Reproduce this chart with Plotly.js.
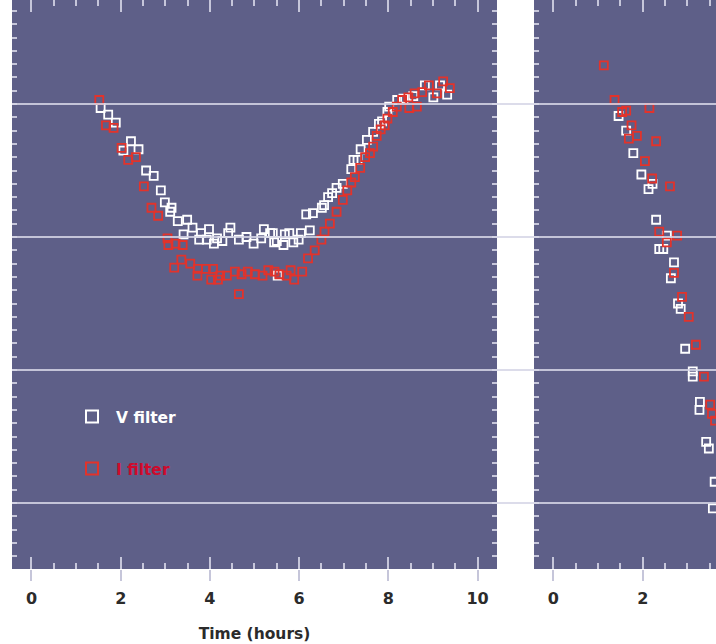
<!DOCTYPE html>
<html>
<head>
<meta charset="utf-8">
<script src="https://cdn.plot.ly/plotly-3.0.1.min.js"></script>
<style>html,body{margin:0;padding:0;background:#fff;overflow:hidden}#chart{width:716px;height:644px}</style>
</head>
<body>
<div id="chart"></div>
<script>
// Light curve data: time (hours) and relative magnitude (larger = fainter)
const vLeftTime = [1.55,1.72,1.89,2.06,2.23,2.40,2.57,2.74,2.90,2.99,3.11,3.14,3.28,3.41,3.49,3.61,3.76,3.80,3.93,3.98,4.09,4.16,4.28,4.41,4.46,4.65,4.82,4.98,5.15,5.21,5.35,5.41,5.44,5.50,5.52,5.65,5.68,5.78,5.87,5.99,6.04,6.16,6.24,6.31,6.51,6.56,6.65,6.74,6.84,6.98,7.17,7.22,7.31,7.38,7.52,7.66,7.79,7.86,7.98,8.02,8.20,8.34,8.56,8.82,9.01,9.16,9.32];
const vLeftMag  = [0.03,0.08,0.14,0.35,0.28,0.34,0.50,0.54,0.65,0.74,0.81,0.78,0.88,0.98,0.87,0.93,1.02,0.97,1.02,0.94,1.05,1.01,1.03,0.97,0.93,1.02,1.00,1.05,1.01,0.94,0.97,0.97,1.04,1.03,1.29,1.06,0.98,0.97,1.04,1.02,0.97,0.83,0.95,0.82,0.78,0.76,0.70,0.67,0.63,0.60,0.49,0.42,0.42,0.34,0.27,0.21,0.15,0.13,0.06,0.02,-0.03,-0.04,-0.06,-0.14,-0.05,-0.14,-0.07];

const iLeftTime = [1.52,1.67,1.84,2.02,2.17,2.34,2.52,2.69,2.84,3.05,3.07,3.20,3.23,3.36,3.39,3.56,3.72,3.73,3.91,4.03,4.07,4.18,4.23,4.38,4.56,4.65,4.71,4.85,5.01,5.18,5.31,5.45,5.56,5.72,5.81,5.89,6.07,6.20,6.35,6.50,6.57,6.69,6.84,6.98,7.08,7.17,7.25,7.37,7.48,7.59,7.66,7.74,7.83,7.92,7.98,8.10,8.19,8.31,8.45,8.47,8.59,8.64,8.76,8.91,9.09,9.23,9.38];
const iLeftMag  = [-0.03,0.16,0.18,0.33,0.42,0.40,0.62,0.78,0.84,1.01,1.06,1.23,1.05,1.17,1.06,1.20,1.29,1.24,1.24,1.32,1.24,1.32,1.29,1.29,1.26,1.43,1.28,1.26,1.28,1.29,1.25,1.26,1.28,1.29,1.25,1.32,1.26,1.16,1.10,1.02,0.96,0.90,0.81,0.72,0.65,0.59,0.55,0.48,0.40,0.37,0.32,0.24,0.19,0.16,0.11,0.06,0.02,-0.03,-0.05,0.03,-0.08,0.02,-0.09,-0.14,-0.08,-0.17,-0.12];

const vRightTime = [1.46,1.63,1.79,1.97,2.13,2.22,2.30,2.37,2.46,2.54,2.63,2.70,2.79,2.85,2.95,3.12,3.12,3.27,3.28,3.42,3.48,3.57,3.61];
const vRightMag  = [0.09,0.20,0.37,0.53,0.64,0.60,0.87,1.09,1.09,0.99,1.31,1.19,1.50,1.54,1.84,2.01,2.05,2.30,2.24,2.54,2.59,3.04,2.84];

const iRightTime = [1.13,1.37,1.54,1.63,1.69,1.75,1.87,2.05,2.15,2.21,2.30,2.37,2.54,2.61,2.70,2.77,2.88,3.03,3.19,3.37,3.51,3.55,3.62];
const iRightMag  = [-0.29,-0.03,0.06,0.05,0.26,0.16,0.24,0.43,0.03,0.56,0.28,0.96,1.04,0.62,1.27,0.99,1.45,1.60,1.81,2.05,2.26,2.33,2.38];

const seriesNames = ['V filter', 'I filter'];
const gridValues = [0, 1, 2, 3];
const xTickLabels = ['0','2','4','6','8','10'];

const BG = '#5e5f88';
const TICKC = '#c6c6da';
const WHITE = '#ffffff';
const RED = '#e2332b';
const LEGRED = '#cf0a2c';
const FONT = 'DejaVu Sans, Verdana, sans-serif';

function mk(color){ return {symbol:'square-open', size:8, color:color, line:{width:1.8, color:color}}; }

// V traces on the inner-tick axes (x, x2); I traces on the overlaid labelled axes (x3, x4)
const traces = [
  {x:vLeftTime, y:vLeftMag, xaxis:'x', yaxis:'y', type:'scatter', mode:'markers', name:seriesNames[0], marker:mk(WHITE), legend:'legend'},
  {x:iLeftTime, y:iLeftMag, xaxis:'x3', yaxis:'y', type:'scatter', mode:'markers', name:seriesNames[1], marker:mk(RED), legend:'legend2'},
  {x:vRightTime, y:vRightMag, xaxis:'x2', yaxis:'y2', type:'scatter', mode:'markers', name:seriesNames[0], marker:mk(WHITE), showlegend:false},
  {x:iRightTime, y:iRightMag, xaxis:'x4', yaxis:'y2', type:'scatter', mode:'markers', name:seriesNames[1], marker:mk(RED), showlegend:false}
];

const yRange = [3.496, -0.782];
const xRange1 = [-0.437, 10.437];
const xRange2 = [-0.432, 3.640];

function innerX(domain, range, anchor){
  return {domain:domain, range:range, anchor:anchor, showgrid:false, zeroline:false, showline:false,
    tickmode:'linear', tick0:0, dtick:2, ticks:'inside', ticklen:12, tickwidth:2, tickcolor:TICKC,
    minor:{ticks:'inside', ticklen:6, tickwidth:2, tickcolor:TICKC, dtick:0.5, tick0:0, showgrid:false},
    mirror:'ticks', showticklabels:false, fixedrange:true};
}
function outerX(over, range, anchor, withTitle){
  const a = {overlaying:over, range:range, anchor:anchor, side:'bottom', showgrid:false, zeroline:false, showline:false,
    tickmode:'array', tickvals:xTickLabels.map(Number), ticktext:xTickLabels,
    ticks:'outside', ticklen:11, tickwidth:2, tickcolor:TICKC, ticklabelstandoff:4,
    tickfont:{family:FONT, size:16, color:'#2b2b2b', weight:'bold'}, fixedrange:true};
  if (withTitle) a.title = {text:'Time (hours)', font:{family:FONT, size:15.5, color:'#2b2b2b', weight:'bold'}, standoff:20};
  return a;
}
function yAx(anchor, mirror){
  return {anchor:anchor, range:yRange, showgrid:false, zeroline:false, showline:false,
    tickmode:'linear', tick0:0, dtick:0.1, ticks:'inside', ticklen:5, tickwidth:2, tickcolor:TICKC,
    mirror: mirror ? 'ticks' : false, showticklabels:false, fixedrange:true};
}

const shapes = gridValues.map(v => ({type:'line', xref:'paper', yref:'y', x0:0, x1:1, y0:v, y1:v,
  line:{color:'rgba(214,214,230,0.85)', width:2}, layer:'above'}));

const legendBase = {xref:'paper', yref:'paper', xanchor:'left', yanchor:'middle',
  bgcolor:'rgba(0,0,0,0)', borderwidth:0, itemsizing:'constant', itemwidth:38, itemclick:false, itemdoubleclick:false};

const layout = {
  width:716, height:644,
  margin:{l:12, r:0, t:0, b:75, autoexpand:false},
  paper_bgcolor:'#ffffff', plot_bgcolor:BG,
  xaxis: innerX([0, 0.6889], xRange1, 'y'),
  xaxis3: outerX('x', xRange1, 'y', true),
  xaxis2: innerX([0.7415, 1], xRange2, 'y2'),
  xaxis4: outerX('x2', xRange2, 'y2', false),
  yaxis: yAx('x', true),
  yaxis2: yAx('x2', false),
  shapes: shapes,
  legend: Object.assign({}, legendBase, {x:(68-12)/704, y:1-417/569,
    font:{family:FONT, size:15.5, color:WHITE, weight:'bold'}}),
  legend2: Object.assign({}, legendBase, {x:(68-12)/704, y:1-469/569,
    font:{family:FONT, size:15.5, color:LEGRED, weight:'bold'}}),
  showlegend:true
};

Plotly.newPlot('chart', traces, layout, {displayModeBar:false, staticPlot:true});
</script>
</body>
</html>
